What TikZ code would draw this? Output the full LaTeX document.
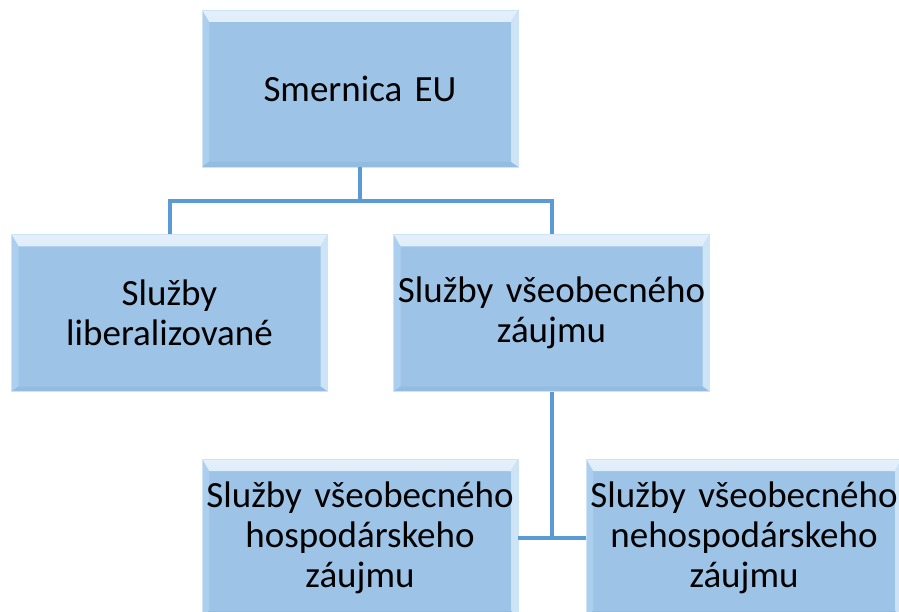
\documentclass[tikz,border=0pt]{standalone}
\usepackage{fontspec}
\setmainfont{Carlito}
\usetikzlibrary{positioning, calc}
\definecolor{box fill}{RGB}{157,195,230}
\definecolor{bevel light}{RGB}{228,240,251}
\definecolor{bevel left}{RGB}{172,207,239}
\definecolor{bevel right}{RGB}{205,227,246}
\definecolor{bevel dark}{RGB}{146,188,226}
\definecolor{link blue}{RGB}{91,155,213}
\tikzset{
unit/.style = { rectangle, fill = box fill, draw = bevel right, line width = 0.8pt, minimum width = 316pt, minimum height = 157pt, inner sep = 0pt, text width = 314pt, align = center, font = \fontsize{37}{40}\selectfont,
    path picture = {
        % bevel: top, left, right, bottom
        \shade[top color = bevel light, bottom color = bevel left] (path picture bounding box.north west) -- (path picture bounding box.north east) -- ([xshift = -7pt, yshift = -12pt]path picture bounding box.north east) -- ([xshift = 7pt, yshift = -12pt]path picture bounding box.north west) -- cycle;
        \path[fill = bevel left] (path picture bounding box.north west) -- ([xshift = 7pt, yshift = -12pt]path picture bounding box.north west) -- ([xshift = 7pt, yshift = 5pt]path picture bounding box.south west) -- (path picture bounding box.south west) -- cycle;
        \path[fill = bevel right] (path picture bounding box.north east) -- ([xshift = -7pt, yshift = -12pt]path picture bounding box.north east) -- ([xshift = -7pt, yshift = 5pt]path picture bounding box.south east) -- (path picture bounding box.south east) -- cycle;
        \path[fill = bevel dark] (path picture bounding box.south west) -- ([xshift = 7pt, yshift = 5pt]path picture bounding box.south west) -- ([xshift = -7pt, yshift = 5pt]path picture bounding box.south east) -- (path picture bounding box.south east) -- cycle;
        }
    },
link/.style = { draw = link blue, line width = 4pt },
}

\begin{document}
\begin{tikzpicture}[x = 1pt, y = -1pt]
    \useasboundingbox (0, 0) rectangle (899, 612);
    \clip (0, 0) rectangle (899, 612);
    \node[unit] (eu) at (360, 88.5) {Smernica EU};
    \node[unit] (lib) at (169.5, 313) {Služby\\liberalizované};
    \node[unit] (vseob) at (551.5, 313) {Služby všeobecného\\záujmu};
    \node[unit] (hosp) at (360, 537.5) {Služby všeobecného\\hospodárskeho\\záujmu};
    \node[unit] (nehosp) at (744, 537.5) {Služby všeobecného\\nehospodárskeho\\záujmu};
    \coordinate (split) at (360, 201);
    \draw[link] (eu.south) -- (split);
    \draw[link] (lib.north) |- (split) -| (vseob.north);
    \draw[link] (vseob.south) -- (vseob.south |- hosp.east);
    \draw[link] (hosp.east) -- (nehosp.west);
\end{tikzpicture}
\end{document}
